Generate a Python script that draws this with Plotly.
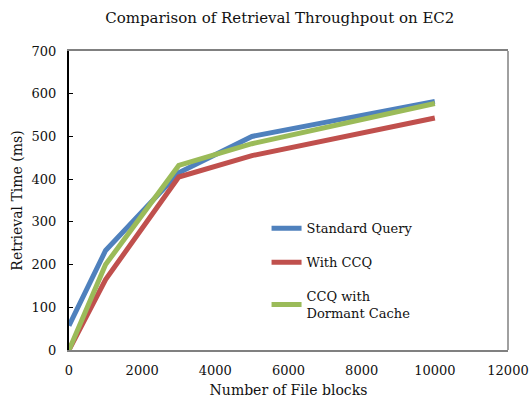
import plotly.graph_objects as go

blocks = [0, 1000, 3000, 5000, 10000]
standard_query = [57, 233, 415, 500, 582]
with_ccq = [0, 165, 405, 455, 543]
ccq_dormant = [0, 200, 432, 483, 577]

names = ["Standard Query", "With CCQ", "CCQ with<br>Dormant Cache"]
colors = ["#4F81BD", "#C0504D", "#9BBB59"]
series = [standard_query, with_ccq, ccq_dormant]

FONT = "DejaVu Serif"
TXT = "#111"

fig = go.Figure()
for i, (n, c, s) in enumerate(zip(names, colors, series)):
    fig.add_trace(go.Scatter(x=blocks, y=s, mode="lines", name=n,
                             legendgroup=str(i),
                             line=dict(color=c, width=5)))

fig.update_layout(
    width=529, height=398,
    margin=dict(l=69, r=21, t=51, b=48),
    paper_bgcolor="white", plot_bgcolor="white",
    font=dict(family=FONT, size=13, color=TXT),
    title=dict(text="Comparison of Retrieval Throughpout on EC2", x=0.529, xanchor="center",
               y=0.955, yanchor="middle", font=dict(family=FONT, size=15, color=TXT)),
    showlegend=True,
    legend=dict(x=0.45, y=0.457, xanchor="left", yanchor="top",
                bgcolor="rgba(0,0,0,0)", tracegroupgap=14,
                font=dict(family=FONT, size=13, color=TXT)),
    xaxis=dict(range=[0, 12000], dtick=2000, tickformat="d", showgrid=False, zeroline=False,
               showline=True, linecolor="#808080", linewidth=1.5, mirror=True, automargin=False,
               ticks="", ticklabelstandoff=8, tickfont=dict(family=FONT, size=13, color=TXT),
               title=dict(text="Number of File blocks", font=dict(family=FONT, size=14, color=TXT), standoff=10)),
    yaxis=dict(range=[0, 700], dtick=100, showgrid=False, zeroline=False, automargin=False,
               showline=True, linecolor="black", linewidth=2,
               ticks="inside", ticklen=4, tickcolor="black", ticklabelstandoff=8,
               tickfont=dict(family=FONT, size=13, color=TXT),
               title=dict(text="Retrieval Time (ms)", font=dict(family=FONT, size=14, color=TXT), standoff=6)),
    shapes=[dict(type="line", xref="paper", yref="paper", x0=1, x1=1, y0=0, y1=1,
                 line=dict(color="#808080", width=1.5))],
)

fig.write_html("out.html")
